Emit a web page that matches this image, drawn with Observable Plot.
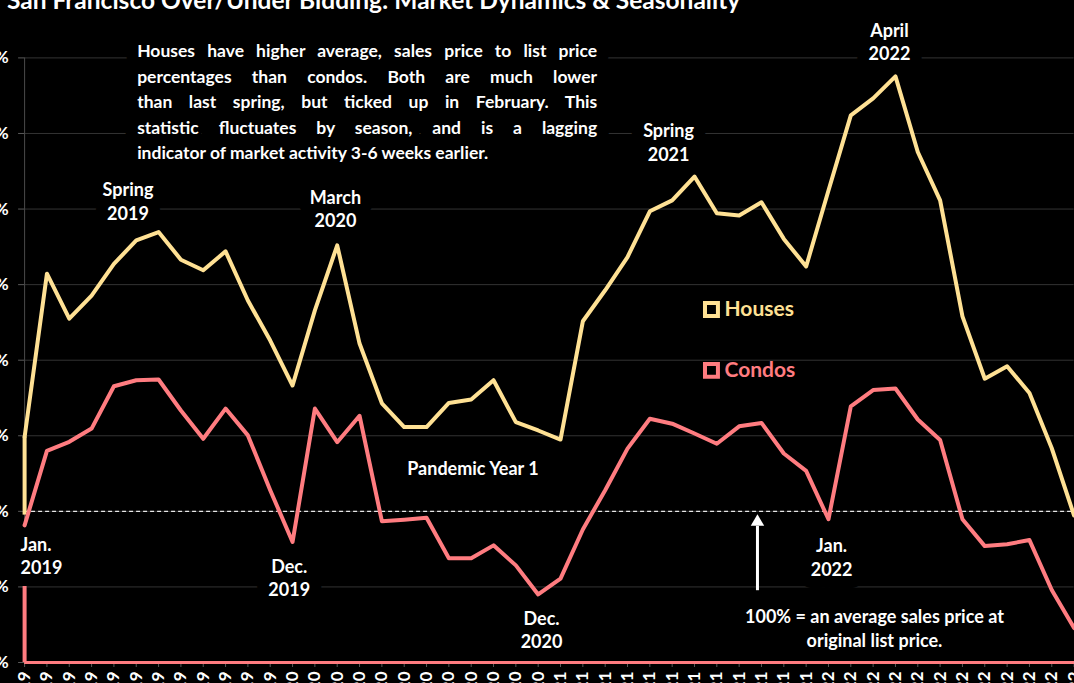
<!DOCTYPE html>
<html>
<head>
<meta charset="utf-8">
<script src="https://cdn.jsdelivr.net/npm/d3@7"></script>
<script src="https://cdn.jsdelivr.net/npm/@observablehq/plot@0.6"></script>
<style>
  html, body { margin: 0; padding: 0; background: #000; overflow: hidden; width: 1074px; height: 683px; }
  #wrap { position: absolute; left: -60px; top: -15px; width: 1160px; }
  #title { height: 30px; line-height: 30px; font: bold 24.5px Lato, sans-serif; color: #fff; padding-left: 67px; white-space: nowrap; }
  #chart svg { max-width: none !important; width: 1160px !important; height: 700px !important; display: block; }
</style>
</head>
<body>
<div id="wrap">
  <div id="title">San Francisco Over/Under Bidding: Market Dynamics &amp; Seasonality</div>
  <div id="chart"></div>
</div>
<script>
// ---- data ----
const months = ["Jan","Feb","Mar","Apr","May","Jun","Jul","Aug","Sep","Oct","Nov","Dec"];
const years = ["19","20","21","22"];
const monthLabels = years.flatMap(y => months.map(m => `${m}-${y}`));

const houses = [101.97, 106.29, 105.10, 105.71, 106.55, 107.17, 107.39, 106.66, 106.38, 106.88, 105.58, 104.52,
                103.33, 105.32, 107.04, 104.44, 102.86, 102.23, 102.23, 102.87, 102.96, 103.47, 102.36, 102.14,
                101.90, 105.03, 105.85, 106.73, 107.94, 108.23, 108.86, 107.89, 107.83, 108.18, 107.21, 106.48,
                108.49, 110.48, 110.93, 111.51, 109.51, 108.23, 105.16, 103.51, 103.84, 103.13, 101.67, 99.89];
const condos = [99.63, 101.60, 101.84, 102.19, 103.31, 103.47, 103.49, 102.67, 101.92, 102.72, 102.01, 100.56,
                99.19, 102.72, 101.83, 102.53, 99.74, 99.78, 99.83, 98.76, 98.76, 99.10, 98.57, 97.80,
                98.22, 99.52, 100.56, 101.66, 102.45, 102.32, 102.06, 101.79, 102.25, 102.34, 101.53, 101.07,
                99.79, 102.78, 103.21, 103.25, 102.43, 101.89, 99.79, 99.08, 99.13, 99.24, 97.92, 96.91];
const houseStart = 99.9;   // foot of the houses line's first vertical segment
const yTicks = [96, 98, 100, 102, 104, 106, 108, 110, 112];
const baseline = 100;
const yMin = 96;

const seriesNames = ["Houses", "Condos"];
const seriesColors = ["#FFE194", "#FF7C80"];

const paragraph = [
  "Houses have higher average, sales price to list price",
  "percentages than condos. Both are much lower",
  "than last spring, but ticked up in February. This",
  "statistic fluctuates by season, and is a lagging",
  "indicator of market activity 3-6 weeks earlier."
];
const paragraphAnchor = [{i: 5.04, v: 112.5, text: paragraph.join("\n")}];

const notes = [
  {i: 4.63, v: 108.23, text: "Spring\n2019"},
  {i: 13.92, v: 108.02, text: "March\n2020"},
  {i: 11.85, v: 98.27, text: "Dec.\n2019"},
  {i: 20.08, v: 101.15, text: "Pandemic Year 1"},
  {i: 23.15, v: 96.88, text: "Dec.\n2020"},
  {i: 28.84, v: 109.79, text: "Spring\n2021"},
  {i: 38.73, v: 112.44, text: "April\n2022"},
  {i: 36.14, v: 98.81, text: "Jan.\n2022"},
  {i: 38.06, v: 96.93, text: "100% = an average sales price at\noriginal list price."}
];
const startNote = [{i: -0.18, v: 98.84, text: "Jan.\n2019"}];

const legendItems = [
  {i: 30.76, v: 105.34, name: "Houses", color: "#FFE194"},
  {i: 30.76, v: 103.73, name: "Condos", color: "#FF7C80"}
];
const arrowSpec = {i: 32.82, from: 97.9, to: 99.6, tip: 99.72};

// ---- build ----
const rows = monthLabels.map((m, i) => ({i, m, houses: houses[i], condos: condos[i]}));
const idx = monthLabels.map((_, i) => i);

const textBase = {fontWeight: "bold", fontSize: 18, fontFamily: "Lato", lineHeight: 1.3};
const halo = {fill: "black", stroke: "black", strokeWidth: 24, strokeLinejoin: "round"};
const ink = {fill: "white"};
const paraOpts = {x: "i", y: "v", text: "text", textAnchor: "start", lineAnchor: "top", ...textBase, fontSize: 17.5, lineHeight: 1.46};
const noteOpts = {x: "i", y: "v", text: "text", textAnchor: "middle", ...textBase};
const startOpts = {x: "i", y: "v", text: "text", textAnchor: "start", ...textBase};

const chart = Plot.plot({
  width: 1160,
  height: 700,
  marginLeft: 84.1,
  marginRight: 26.4,
  marginTop: 42.4,
  marginBottom: 53,
  style: {background: "black", color: "white", fontFamily: "Lato", fontSize: "17px", overflow: "visible", maxWidth: "none"},
  x: {domain: [0, 47], ticks: idx, tickFormat: i => monthLabels[i], tickRotate: -90, tickSize: 5, tickPadding: 4, label: null},
  y: {domain: [yMin, 112], ticks: yTicks, tickFormat: d => d + "%", tickSize: 6, tickPadding: 10, label: null},
  marks: [
    Plot.ruleY(yTicks, {stroke: "#333", strokeWidth: 1}),
    Plot.ruleX([0], {y1: yMin, y2: 112, stroke: "#4a4a4a"}),
    Plot.ruleY([baseline], {x1: 0, x2: 47.1, stroke: "#e8e8e8", strokeWidth: 1.2, strokeDasharray: "4,3"}),
    Plot.ruleX([0], {y1: yMin, y2: condos[0], stroke: seriesColors[1], strokeWidth: 4}),
    Plot.ruleX([0], {y1: houseStart, y2: houses[0], stroke: seriesColors[0], strokeWidth: 4}),
    // halos (black boxes behind the annotations)
    Plot.text(paragraphAnchor, {...paraOpts, ...halo}),
    Plot.text(notes, {...noteOpts, ...halo}),
    Plot.text(startNote, {...startOpts, ...halo}),
    // annotation text
    Plot.text(paragraphAnchor, {...paraOpts, ...ink}),
    Plot.text(notes, {...noteOpts, ...ink}),
    Plot.text(startNote, {...startOpts, ...ink}),
    Plot.ruleY([yMin], {x1: 0, x2: 47.1, stroke: seriesColors[1], strokeWidth: 3}),
    Plot.line(rows, {x: "i", y: "houses", stroke: seriesColors[0], strokeWidth: 4, strokeLinejoin: "round"}),
    Plot.line(rows, {x: "i", y: "condos", stroke: seriesColors[1], strokeWidth: 4, strokeLinejoin: "round"}),
    Plot.dot(legendItems, {x: "i", y: "v", symbol: "square", r: 7.3, stroke: "color", strokeWidth: 4, fill: "black"}),
    Plot.text(legendItems, {x: "i", y: "v", text: "name", fill: "color", dx: 13, textAnchor: "start",
      fontWeight: "bold", fontSize: 21, fontFamily: "Lato"}),
    Plot.ruleX([arrowSpec.i], {y1: arrowSpec.from, y2: arrowSpec.to, stroke: "white", strokeWidth: 3}),
    Plot.dot([arrowSpec], {x: "i", y: "tip", symbol: "triangle", r: 5, fill: "white"})
  ]
});
document.getElementById("chart").appendChild(chart);

// grey tick marks
chart.querySelectorAll('[aria-label^="x-axis"] line, [aria-label^="x-axis"] path, [aria-label^="y-axis"] line, [aria-label^="y-axis"] path')
  .forEach(el => el.setAttribute("stroke", "#595959"));
chart.querySelectorAll('[aria-label^="x-axis"] text, [aria-label^="y-axis"] text')
  .forEach(el => { el.setAttribute("font-weight", "bold"); });

// justify the paragraph (both halo and ink layers)
const paraTarget = 460;
chart.querySelectorAll("text").forEach(t => {
  if (!t.textContent.startsWith("Houses have")) return;
  const spans = t.querySelectorAll("tspan");
  spans.forEach((s, k) => {
    if (k === spans.length - 1) return;
    const w = s.getComputedTextLength();
    const n = (s.textContent.match(/ /g) || []).length;
    if (n > 0) s.style.wordSpacing = ((paraTarget - w) / n) + "px";
  });
});
</script>
</body>
</html>
